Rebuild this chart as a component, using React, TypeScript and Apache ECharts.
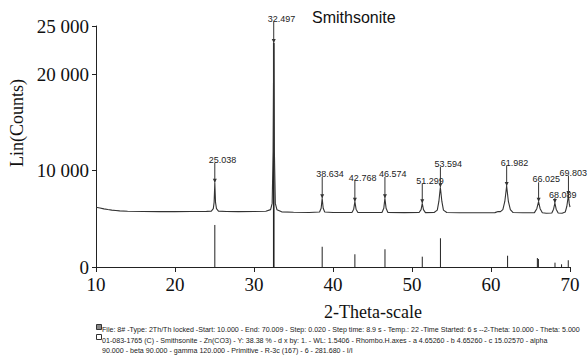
import React, { useEffect, useRef } from 'react';
import * as echarts from 'echarts';

// Axis ticks
const yTickValues = [0, 10000, 20000, 25000];

// Scan profile (2-theta, counts)
const scanTheta = [
  10.0, 10.5, 11.0, 11.5, 12.0, 12.5, 13.0, 14.0, 16.0, 18.0, 20.0, 22.0, 24.0, 24.6, 24.85, 24.95, 25.04, 25.13, 25.25, 25.5,
  26.5, 28.0, 30.0, 31.5, 32.1, 32.3, 32.42, 32.5, 32.58, 32.7, 32.9, 33.5, 35.0, 37.0, 38.3, 38.5, 38.63, 38.76, 38.95,
  40.0, 42.4, 42.62, 42.77, 42.92, 43.15, 44.5, 46.2, 46.43, 46.57, 46.72, 46.95, 49.0, 50.9, 51.15, 51.3, 51.45, 51.7,
  52.8, 53.2, 53.4, 53.59, 53.78, 53.98, 54.4, 56.0, 58.0, 60.5, 60.9, 61.2, 61.5, 61.75, 61.98, 62.2, 62.45, 62.8,
  64.0, 65.5, 65.8, 66.02, 66.22, 66.5, 67.0, 67.7, 67.92, 68.09, 68.25, 68.5, 69.0, 69.4, 69.6, 69.8, 69.9, 70.0,
];
const scanCounts = [
  6190, 6120, 6030, 5960, 5900, 5860, 5820, 5780, 5750, 5740, 5740, 5750, 5770, 5800, 6050, 6700, 8745, 6700, 6050, 5800,
  5760, 5740, 5750, 5780, 5950, 6600, 12000, 23240, 12000, 6600, 5950, 5720, 5680, 5660, 5700, 6100, 7130, 6100, 5700,
  5650, 5660, 6000, 6775, 6000, 5660, 5650, 5660, 6100, 7130, 6100, 5660, 5640, 5650, 5950, 6610, 5950, 5640,
  5660, 5900, 6800, 8270, 6800, 5900, 5650, 5620, 5620, 5640, 5760, 5740, 5950, 6800, 8400, 6800, 5950, 5650,
  5620, 5640, 6050, 6775, 6050, 5620, 5580, 5600, 6000, 6640, 6000, 5600, 5580, 5700, 6300, 7470, 6600, 6200,
];

// Labelled peaks
const peakTheta = [25.038, 32.497, 38.634, 42.768, 46.574, 51.299, 53.594, 61.982, 66.025, 68.089, 69.803];
const peakLabels = ['25.038', '32.497', '38.634', '42.768', '46.574', '51.299', '53.594', '61.982', '66.025', '68.089', '69.803'];
const peakCounts = [8745, 23240, 7130, 6775, 7130, 6610, 8270, 8400, 6775, 6640, 7470];
const labelCounts = [11100, 25730, 9650, 9230, 9650, 8950, 10680, 10820, 9100, 7470, 9780];

// Reference pattern sticks (01-083-1765 Smithsonite)
const stickTheta = [25.04, 32.5, 38.63, 42.77, 46.58, 51.3, 53.6, 62.1, 65.87, 66.0, 68.1, 68.93, 69.78];
const stickCounts = [4360, 23240, 2100, 1320, 1840, 1070, 2980, 1170, 930, 830, 450, 280, 700];

const titleText = 'Smithsonite';
const xName = '2-Theta-scale';
const yName = 'Lin(Counts)';
const infoLines = [
  'File: 8# -Type: 2Th/Th locked -Start: 10.000 - End: 70.009 - Step: 0.020 - Step time: 8.9 s - Temp.: 22 -Time Started: 6 s --2-Theta: 10.000 - Theta: 5.000',
  '01-083-1765 (C) - Smithsonite - Zn(CO3) - Y: 38.38 % - d x by: 1. - WL: 1.5406 - Rhombo.H.axes - a 4.65260 - b 4.65260 - c 15.02570 - alpha',
  '90.000 - beta 90.000 - gamma 120.000 - Primitive - R-3c (167) - 6 - 281.680 - I/I',
];

function fmtY(v: number): string {
  if (v === 0) return '0';
  return Math.round(v / 1000) + ' 000';
}

export default function App() {
  const ref = useRef<HTMLDivElement>(null);
  useEffect(() => {
    if (!ref.current) return;
    const chart = echarts.init(ref.current, null, { renderer: 'svg' });
    const scanData = scanTheta.map((t, i) => [t, scanCounts[i]]);
    const stickData = stickTheta.map((t, i) => [t, stickCounts[i]]);
    const peakData = peakTheta.map((t, i) => [t, peakCounts[i], labelCounts[i]]);
    const serif = 'Liberation Serif, Times New Roman, serif';
    const sans = 'Liberation Sans, Arial, sans-serif';
    const maxStick = Math.max(...stickCounts);
    chart.setOption({
      animation: false,
      backgroundColor: '#ffffff',
      grid: { left: 96, right: 18, top: 26, bottom: 97 },
      xAxis: {
        type: 'value',
        min: 10,
        max: 70,
        interval: 10,
        axisLine: { show: true, lineStyle: { color: '#222', width: 1 } },
        axisTick: { show: true, length: 5, lineStyle: { color: '#222' } },
        axisLabel: { fontFamily: serif, fontSize: 19, color: '#111', margin: 8 },
        splitLine: { show: false },
      },
      yAxis: {
        type: 'value',
        min: 0,
        max: 25000,
        interval: 5000,
        axisLine: { show: true, lineStyle: { color: '#222', width: 1 } },
        axisTick: { show: true, length: 4, customValues: yTickValues, lineStyle: { color: '#222' } },
        axisLabel: {
          fontFamily: serif,
          fontSize: 19,
          color: '#111',
          margin: 7,
          customValues: yTickValues,
          formatter: (v: number) => fmtY(v),
        },
        splitLine: { show: false },
      },
      graphic: [
        {
          type: 'text',
          left: 312,
          top: 9,
          style: { text: titleText, fontFamily: sans, fontSize: 16, fill: '#111' },
        },
        {
          type: 'text',
          x: 373,
          y: 312,
          style: { text: xName, fontFamily: serif, fontSize: 18, fill: '#111', align: 'center', verticalAlign: 'middle' },
        },
        {
          type: 'text',
          x: 17,
          y: 123,
          rotation: Math.PI / 2,
          style: { text: yName, fontFamily: serif, fontSize: 18, fill: '#111', align: 'center', verticalAlign: 'middle' },
        },
        {
          type: 'rect',
          shape: { x: 96.5, y: 324.5, width: 5, height: 5 },
          style: { fill: '#888', stroke: '#333', lineWidth: 1 },
        },
        {
          type: 'rect',
          shape: { x: 96.5, y: 334.5, width: 5, height: 5 },
          style: { fill: '#fff', stroke: '#333', lineWidth: 1 },
        },
        ...infoLines.map((t, i) => ({
          type: 'text',
          x: 102,
          y: 330 + i * 10.5,
          style: { text: t, fontFamily: sans, fontSize: 7.1, fill: '#222', verticalAlign: 'middle' },
        })),
      ],
      series: [
        {
          type: 'line',
          data: scanData,
          showSymbol: false,
          symbol: 'none',
          lineStyle: { color: '#333', width: 1.1 },
          z: 3,
        },
        {
          type: 'custom',
          data: stickData,
          clip: false,
          z: 2,
          renderItem: (params: any, api: any) => {
            const x = api.value(0);
            const top = api.coord([x, api.value(1)]);
            const base = api.coord([x, 0]);
            const idx = params.dataIndex;
            const w = stickCounts[idx] === maxStick ? 1.6 : 1;
            return {
              type: 'line',
              shape: { x1: top[0], y1: base[1], x2: top[0], y2: top[1] },
              style: { stroke: '#222', lineWidth: w },
            };
          },
        },
        {
          type: 'custom',
          data: peakData,
          clip: false,
          z: 4,
          renderItem: (params: any, api: any) => {
            const x = api.value(0);
            const p = api.coord([x, api.value(1)]);
            const l = api.coord([x, api.value(2)]);
            const idx = params.dataIndex;
            const tx = Math.min(p[0] - 6, 587 - 27.6);
            return {
              type: 'group',
              children: [
                {
                  type: 'line',
                  shape: { x1: p[0], y1: p[1], x2: p[0], y2: l[1] + 3 },
                  style: { stroke: '#333', lineWidth: 1 },
                },
                {
                  type: 'polygon',
                  shape: { points: [[p[0] - 2, p[1] - 4], [p[0] + 2, p[1] - 4], [p[0], p[1]]] },
                  style: { fill: '#333' },
                },
                {
                  type: 'text',
                  x: tx,
                  y: l[1],
                  style: {
                    text: peakLabels[idx],
                    fontFamily: sans,
                    fontSize: 9,
                    fill: '#222',
                    verticalAlign: 'middle',
                    align: 'left',
                  },
                },
              ],
            };
          },
        },
      ],
    });
    return () => chart.dispose();
  }, []);
  return (
    <div
      ref={ref}
      style={{ position: 'fixed', left: 0, top: 0, width: 588, height: 364, background: '#fff' }}
    />
  );
}
